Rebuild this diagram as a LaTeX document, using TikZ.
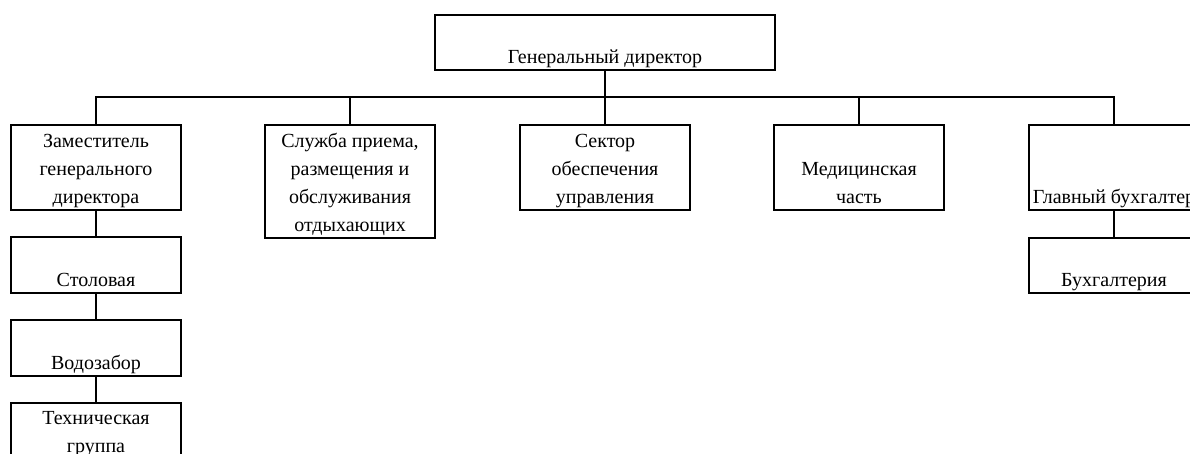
\documentclass[tikz,border=0pt]{standalone}
\usepackage{fontspec}
\setmainfont{Liberation Serif}
\usetikzlibrary{positioning}
\begin{document}
\begin{tikzpicture}[x=1pt,y=-1pt,
    box/.style={draw, line width=2pt, minimum width=170pt, minimum height=#1, inner sep=0pt},
    box/.default=85pt,
    lbl/.style={anchor=south, align=center, inner sep=0pt, yshift=-1.5pt,
                font=\fontsize{20}{28}\selectfont},
    link/.style={line width=2pt}]
    \useasboundingbox (0,0) rectangle (1190,453);
    \clip (0,0) rectangle (1190,453);

    % Boxes
    \node[box=55pt, minimum width=340pt] (gd) at (605,42.5) {};
    \node[box] (zam) at (96,167.5) {};
    \node[box=113pt] (sl) at (350,181.5) {};
    \node[box] (sek) at (605,167.5) {};
    \node[box] (med) at (859,167.5) {};
    \node[box] (glbuh) at (1114,167.5) {};
    \node[box=55pt] (buh) at (1114,265.5) {};
    \node[box=56pt] (stol) at (96,265) {};
    \node[box=56pt] (vodo) at (96,348) {};
    \node[box=56pt] (tech) at (96,431) {};

    % Labels
    \node[lbl] (gd-t) at (gd.south) {Генеральный директор\strut};
    \node[lbl] (zam-t) at (zam.south) {Заместитель\\генерального\\директора\strut};
    \node[lbl] (sl-t) at (sl.south) {Служба приема,\\размещения и\\обслуживания\\отдыхающих\strut};
    \node[lbl] (sek-t) at (sek.south) {Сектор\\обеспечения\\управления\strut};
    \node[lbl] (med-t) at (med.south) {Медицинская\\часть\strut};
    \node[lbl] (glbuh-t) at (glbuh.south) {Главный бухгалтер\strut};
    \node[lbl] (buh-t) at (buh.south) {Бухгалтерия\strut};
    \node[lbl] (stol-t) at (stol.south) {Столовая\strut};
    \node[lbl] (vodo-t) at (vodo.south) {Водозабор\strut};
    \node[lbl] (tech-t) at (tech.south) {Техническая\\группа\strut};

    % Bus
    \coordinate (busL) at (zam.north |- 0,97);
    \coordinate (busR) at (glbuh.north |- 0,97);
    \draw[link] (zam.north) -- (busL) -- (busR) -- (glbuh.north);
    \draw[link] (gd.south) -- (sek.north);
    \foreach \n in {sl,med} \draw[link] (\n.north) -- (\n.north |- busL);

    % Chains
    \draw[link] (zam.south) -- (stol.north);
    \draw[link] (stol.south) -- (vodo.north);
    \draw[link] (vodo.south) -- (tech.north);
    \draw[link] (glbuh.south) -- (buh.north);
\end{tikzpicture}
\end{document}
